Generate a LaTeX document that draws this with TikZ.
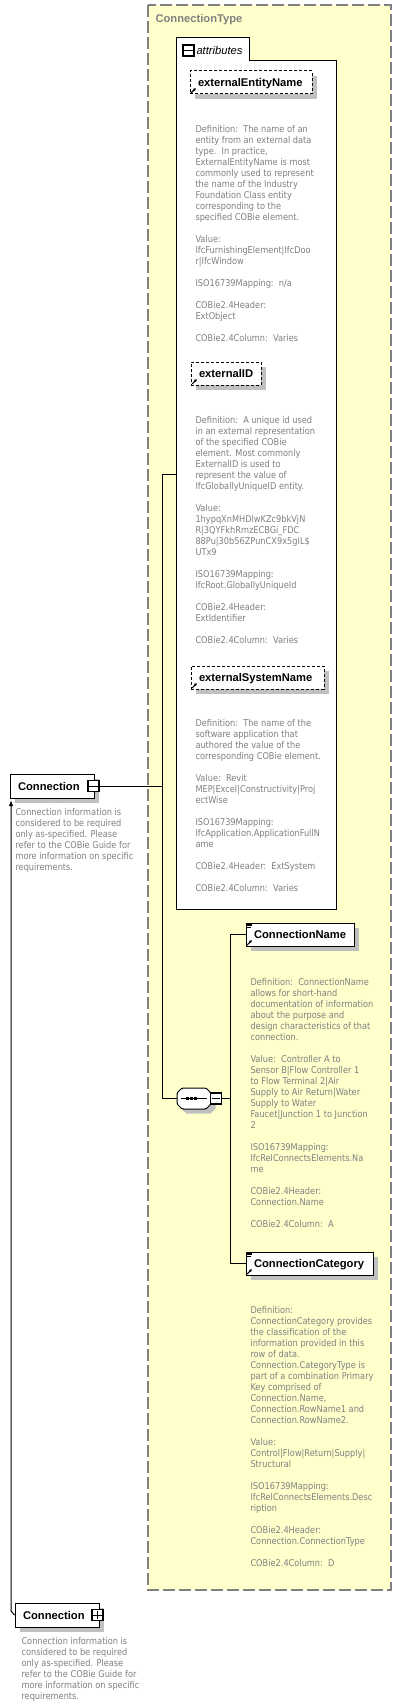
\documentclass[tikz,border=0pt]{standalone}
\usepackage{fontspec}
\setmainfont{Liberation Sans}
\newfontfamily\descfont{DejaVu Sans}[FakeStretch=0.88]
\usetikzlibrary{calc,arrows.meta,shadows}
\definecolor{ybg}{RGB}{255,255,204}
\definecolor{dtext}{RGB}{128,128,128}
\definecolor{shadowc}{RGB}{192,192,192}
\definecolor{framec}{RGB}{128,128,128}
\begin{document}
\begin{tikzpicture}[x=0.75pt,y=-0.75pt,line width=0.75pt,
  lbl/.style={font=\fontsize{8.4}{10}\selectfont\bfseries},
  desc/.style={anchor=north west,inner sep=0pt,align=left,text=dtext,font=\descfont\fontsize{7}{8.25}\selectfont},
  shad/.style={drop shadow={shadow xshift=3.4pt,shadow yshift=-3.4pt,fill=shadowc,draw=none,opacity=1}},
  elbox/.style={draw=black,fill=white,line width=0.75pt,inner xsep=6pt,inner ysep=0pt,align=left,
    text height=6pt,text depth=0pt,minimum height=17.25pt,font=\fontsize{8.4}{10}\selectfont\bfseries,shad},
  attbox/.style={elbox,dash pattern=on 2.25pt off 1.5pt},
  signbox/.style={draw=black,fill=white,line width=1pt,minimum size=8.25pt,inner sep=0pt},
  refarrow/.style={line width=0.8pt,-{Latex[length=2.2pt,width=2.4pt]}},
  conn/.style={draw=black,line width=0.75pt}
]
\useasboundingbox (0,0) rectangle (402,1705);

% ConnectionType complex type frame
\draw[framec,fill=ybg,line width=0.9pt,dash pattern=on 9pt off 3pt] (148,5) rectangle (391,1590);
\node[lbl,text=dtext,anchor=base west,inner sep=0pt] (ctype) at (155,23) {ConnectionType};

% attributes container
\draw[fill=white] (176,38) -- (249,38) -- (249,61) -- (336,61) -- (336,909) -- (176,909) -- cycle;
\node[signbox] (am) at (188.5,50.5) {};
\draw ($(am.west)+(2,0)$) -- ($(am.east)+(-2,0)$);
\node[anchor=base west,inner sep=0pt,font=\fontsize{8.4}{10}\selectfont\itshape] (atl) at (196,54.5) {attributes};

% attributes
\node[attbox,text width=79.5pt] (eEN) at (251,82.5) {externalEntityName};
\node[desc] (d1) at (195,124.5) {Definition:\ \ The name of an\\entity from an external data\\type.\ \ In practice,\\ExternalEntityName is most\\commonly used to represent\\the name of the Industry\\Foundation Class entity\\corresponding to the\\specified COBie element.\\[8.25pt]Value:\\IfcFurnishingElement|IfcDoo\\r|IfcWindow\\[8.25pt]ISO16739Mapping:\ \ n/a\\[8.25pt]COBie2.4Header:\\ExtObject\\[8.25pt]COBie2.4Column:\ \ Varies};

\node[attbox,text width=40.5pt] (eID) at (226,373.5) {externalID};
\node[desc] (d2) at (195,415.5) {Definition:\ \ A unique id used\\in an external representation\\of the specified COBie\\element. Most commonly\\ExternalID is used to\\represent the value of\\IfcGloballyUniqueID entity.\\[8.25pt]Value:\\1hypqXnMHDlwKZc9bkVjN\\R|3QYFkhRmzECBGi\_FDC\\88Pu|30b56ZPunCX9x5gIL\$\\UTx9\\[8.25pt]ISO16739Mapping:\\IfcRoot.GloballyUniqueId\\[8.25pt]COBie2.4Header:\\ExtIdentifier\\[8.25pt]COBie2.4Column:\ \ Varies};

\node[attbox,text width=87.75pt] (eSN) at (257.5,677.5) {externalSystemName};
\node[desc] (d3) at (195,718.5) {Definition:\ \ The name of the\\software application that\\authored the value of the\\corresponding COBie element.\\[8.25pt]Value:\ \ Revit\\MEP|Excel|Constructivity|Proj\\ectWise\\[8.25pt]ISO16739Mapping:\\IfcApplication.ApplicationFullN\\ame\\[8.25pt]COBie2.4Header:\ \ ExtSystem\\[8.25pt]COBie2.4Column:\ \ Varies};

\foreach \n in {eEN,eID,eSN}{
  \draw[refarrow] ($(\n.south west)+(1.5,-1.5)$) -- ++(5,-5);
}

% sequence compositor
\fill[shadowc] (186.5,1092.5) -- (210.5,1092.5) -- (215.5,1097.5) -- (215.5,1108.5) -- (210.5,1113.5) -- (186.5,1113.5) -- (181.5,1108.5) -- (181.5,1097.5) -- cycle;
\node[minimum width=25.5pt,minimum height=15.75pt,inner sep=0pt] (seq) at (194,1098.5) {};
\draw[fill=white,rounded corners=1pt] (182,1088) -- (206,1088) -- (211,1093) -- (211,1104) -- (206,1109) -- (182,1109) -- (177,1104) -- (177,1093) -- cycle;
\draw (181,1098.5) -- (207,1098.5);
\fill (186,1097) rectangle (188.5,1100);
\fill (190,1097) rectangle (192.5,1100);
\fill (194,1097) rectangle (196.5,1100);
\node[signbox] (sm) at (216,1098.5) {};
\draw ($(sm.west)+(2,0)$) -- ($(sm.east)+(-2,0)$);

% elements
\node[elbox,text width=69pt] (cName) at (300,934.5) {ConnectionName};
\node[desc] (d4) at (250,977.5) {Definition:\ \ ConnectionName\\allows for short-hand\\documentation of information\\about the purpose and\\design characteristics of that\\connection.\\[8.25pt]Value:\ \ Controller A to\\Sensor B|Flow Controller 1\\to Flow Terminal 2|Air\\Supply to Air Return|Water\\Supply to Water\\Faucet|Junction 1 to Junction\\2\\[8.25pt]ISO16739Mapping:\\IfcRelConnectsElements.Na\\me\\[8.25pt]COBie2.4Header:\\Connection.Name\\[8.25pt]COBie2.4Column:\ \ A};

\node[elbox,text width=83.25pt] (cCat) at (309.5,1263.5) {ConnectionCategory};
\node[desc] (d5) at (250,1305.5) {Definition:\\ConnectionCategory provides\\the classification of the\\information provided in this\\row of data.\\Connection.CategoryType is\\part of a combination Primary\\Key comprised of\\Connection.Name,\\Connection.RowName1 and\\Connection.RowName2.\\[8.25pt]Value:\\Control|Flow|Return|Supply|\\Structural\\[8.25pt]ISO16739Mapping:\\IfcRelConnectsElements.Desc\\ription\\[8.25pt]COBie2.4Header:\\Connection.ConnectionType\\[8.25pt]COBie2.4Column:\ \ D};

\foreach \n in {cName,cCat}{
  \draw[refarrow] ($(\n.south west)+(1.5,-1.5)$) -- ++(5,-5);
  \draw[line width=0.5pt] ($(\n.north west)+(1.5,1.5)$) -- ++(5,0);
  \draw[line width=0.5pt] ($(\n.north west)+(1.5,3)$) -- ++(5,0);
  \draw[line width=0.5pt] ($(\n.north west)+(1.5,4.5)$) -- ++(4,0);
}

% root element Connection
\node[elbox,text width=51pt,minimum height=18pt] (connA) at (52,786) {Connection};
\node[signbox] (cm) at (93.5,786) {};
\draw ($(cm.west)+(2,0)$) -- ($(cm.east)+(-2,0)$);
\node[desc] (d6) at (15,807.5) {Connection information is\\considered to be required\\only as-specified. Please\\refer to the COBie Guide for\\more information on specific\\requirements.};

% recursive reference Connection
\node[elbox,text width=51pt,minimum height=18pt] (connB) at (57,1615) {Connection};
\node[signbox] (cp) at (97.5,1615) {};
\draw ($(cp.west)+(2,0)$) -- ($(cp.east)+(-2,0)$);
\draw ($(cp.north)+(0,2)$) -- ($(cp.south)+(0,-2)$);
\node[desc] (d7) at (21,1636.5) {Connection information is\\considered to be required\\only as-specified. Please\\refer to the COBie Guide for\\more information on specific\\requirements.};

% connectors
\coordinate (b1top) at (162,474);
\coordinate (b1mid) at (162,786);
\coordinate (b1bot) at (162,1098.5);
\coordinate (attrL) at (176,474);
\coordinate (b2top) at (230,934.5);
\coordinate (b2mid) at (230,1098.5);
\coordinate (b2bot) at (230,1263.5);
\coordinate (rk) at (11,1611);
\coordinate (rtip) at (11,800);

\draw[conn] (cm.east) -- (b1mid);
\draw[conn] (attrL) -- (b1top) -- (b1bot) -- (seq.west);
\draw[conn] (sm.east) -- (b2mid);
\draw[conn] (cName.west) -- (b2top) -- (b2bot) -- (cCat.west);
\draw[conn,-{Latex[length=4.5pt,width=3.2pt]}] (connB.west) -- (rk) -- (rtip);
\end{tikzpicture}
\end{document}
